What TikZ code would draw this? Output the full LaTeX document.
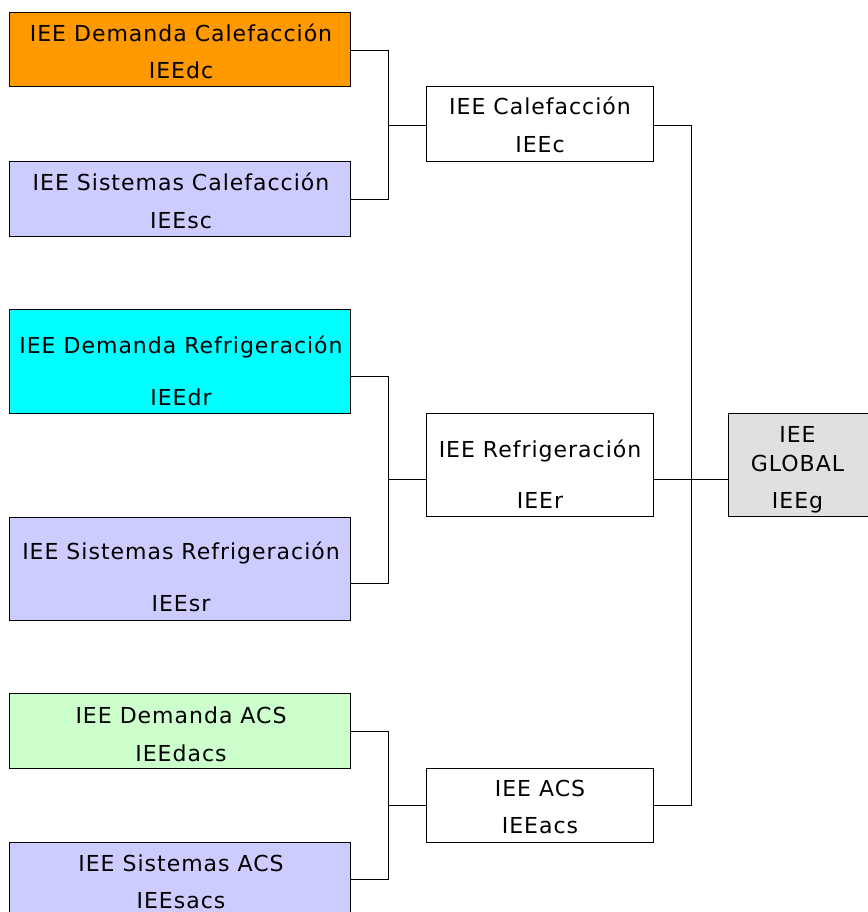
\documentclass[tikz,border=0pt]{standalone}
\usepackage{fontspec}
\setmainfont{DejaVu Sans}[LetterSpace=4.5]
\definecolor{cOrange}{HTML}{FF9900}
\definecolor{cLav}{HTML}{CCCCFF}
\definecolor{cCyan}{HTML}{00FFFF}
\definecolor{cGreen}{HTML}{CCFFCC}
\definecolor{cGray}{HTML}{E0E0E0}
\tikzset{
  box/.style={draw=black, line width=1pt, inner sep=0pt, rectangle},
  leftbox/.style={box, minimum width=341pt},
  midbox/.style={box, fill=white, minimum width=227pt},
  txt/.style={anchor=base, inner sep=0pt, font=\fontsize{22}{26}\selectfont},
  conn/.style={draw=black, line width=1pt}
}
\begin{document}
\begin{tikzpicture}[x=1pt,y=-1pt]
\useasboundingbox[fill=white] (0,0) rectangle (867,912);
% left boxes
\node[leftbox, fill=cOrange, minimum height=74pt] (dc) at (179.5,50) {};
\node[leftbox, fill=cLav, minimum height=74pt] (sc) at (179.5,199) {};
\node[leftbox, fill=cCyan, minimum height=104pt] (dr) at (179.5,361) {};
\node[leftbox, fill=cLav, minimum height=103pt] (sr) at (179.5,568.5) {};
\node[leftbox, fill=cGreen, minimum height=75pt] (dacs) at (179.5,730.5) {};
\node[leftbox, fill=cLav, minimum height=74pt] (sacs) at (179.5,879) {};
% middle boxes
\node[midbox, minimum height=75pt] (c) at (539.5,124.5) {};
\node[midbox, minimum height=103pt] (r) at (539.5,464.5) {};
\node[midbox, minimum height=74pt] (acs) at (539.5,805) {};
% global
\node[box, fill=cGray, minimum width=142pt, minimum height=103pt] (g) at (799,464.5) {};
% texts
\node[txt] (t1a) at (181,42) {IEE Demanda Calefacción};
\node[txt] (t1b) at (181,79) {IEEdc};
\node[txt] (t2a) at (181,190) {IEE Sistemas Calefacción};
\node[txt] (t2b) at (181,228) {IEEsc};
\node[txt] (t3a) at (181,353) {IEE Demanda Refrigeración};
\node[txt] (t3b) at (181,405) {IEEdr};
\node[txt] (t4a) at (181,559) {IEE Sistemas Refrigeración};
\node[txt] (t4b) at (181,611) {IEEsr};
\node[txt] (t5a) at (181,723) {IEE Demanda ACS};
\node[txt] (t5b) at (181,761) {IEEdacs};
\node[txt] (t6a) at (181,871) {IEE Sistemas ACS};
\node[txt] (t6b) at (181,908) {IEEsacs};
\node[txt] (tca) at (540,115) {IEE Calefacción};
\node[txt] (tcb) at (540,153) {IEEc};
\node[txt] (tra) at (540,457) {IEE Refrigeración};
\node[txt] (trb) at (540,508) {IEEr};
\node[txt] (taa) at (540,796) {IEE ACS};
\node[txt] (tab) at (540,833) {IEEacs};
\node[txt] (tga) at (797.5,442) {IEE};
\node[txt] (tgb) at (797.5,471) {GLOBAL};
\node[txt] (tgc) at (797.5,508) {IEEg};
% connectors
\draw[conn] ([yshift=37pt]dc.south east) -- ++(38,0) |- ([yshift=37pt]c.south west);
\draw[conn] ([yshift=37pt]sc.south east) -- ++(38,0) |- ([yshift=37pt]c.south west);
\draw[conn] ([yshift=37pt]dr.south east) -- ++(38,0) |- ([yshift=37pt]r.south west);
\draw[conn] ([yshift=37pt]sr.south east) -- ++(38,0) |- ([yshift=37pt]r.south west);
\draw[conn] ([yshift=37pt]dacs.south east) -- ++(38,0) |- ([yshift=37pt]acs.south west);
\draw[conn] ([yshift=37pt]sacs.south east) -- ++(38,0) |- ([yshift=37pt]acs.south west);
\draw[conn] ([yshift=37pt]c.south east) -- ++(38,0) |- ([yshift=37pt]acs.south east);
\draw[conn] ([yshift=37pt]r.south east) -- ([yshift=37pt]g.south west);
\end{tikzpicture}
\end{document}
